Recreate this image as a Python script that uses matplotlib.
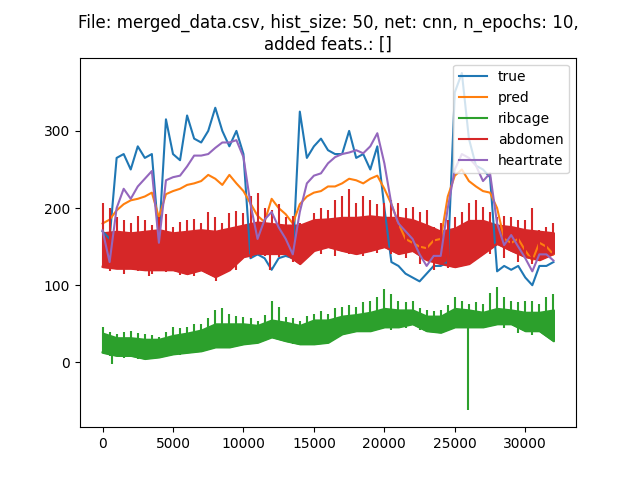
import numpy as np
import matplotlib
matplotlib.use("Agg")
import matplotlib.pyplot as plt

# values, one every 500 samples
step_fine = 500
true_vals = [170, 160, 265, 270, 250, 280, 265, 270, 160, 315, 270, 262, 320, 290, 285, 300,
             330, 300, 280, 300, 270, 135, 140, 135, 120, 135, 138, 135, 325, 265, 280, 290,
             275, 270, 270, 300, 265, 270, 250, 280, 200, 130, 125, 115, 110, 105, 115, 125,
             125, 130, 350, 375, 290, 255, 250, 240, 118, 125, 120, 125, 110, 100, 125, 125, 130]
pred_vals = [180, 185, 197, 205, 210, 212, 215, 220, 188, 218, 222, 225, 230, 232, 235, 243,
             238, 230, 243, 232, 222, 206, 190, 182, 212, 200, 192, 180, 205, 215, 220, 222,
             228, 228, 232, 238, 236, 232, 238, 242, 225, 205, 180, 160, 155, 150, 148, 158,
             160, 215, 242, 250, 235, 228, 222, 220, 200, 160, 155, 160, 145, 132, 155, 150, 140]
heartrate_vals = [171, 130, 200, 225, 212, 228, 238, 248, 155, 236, 240, 242, 254, 268, 268, 270,
                  278, 285, 285, 288, 266, 205, 160, 185, 195, 175, 160, 140, 195, 232, 242, 245,
                  258, 266, 270, 272, 275, 271, 280, 297, 258, 205, 180, 170, 160, 140, 125, 138,
                  138, 200, 250, 270, 265, 255, 235, 245, 180, 152, 165, 150, 135, 118, 140, 140, 132]

# noisy bands, one reading every 1000 samples: bottom edge, dense top, spike tops
step_coarse = 1000
abdomen_lo = [124, 122, 122, 120, 120, 120, 115, 120, 111, 120, 137, 141, 141, 141, 128, 145, 150,
              145, 141, 145, 150, 141, 145, 133, 128, 124, 128, 141, 154, 145, 137, 133, 141]
abdomen_top = [168, 170, 168, 170, 172, 168, 170, 172, 170, 174, 178, 182, 180, 178, 178, 185, 186,
               188, 188, 190, 188, 188, 185, 178, 170, 174, 184, 184, 178, 176, 172, 170, 168]
abdomen_peak = [206, 189, 180, 184, 189, 176, 184, 180, 189, 193, 193, 219, 197, 189, 180, 193, 197,
                215, 206, 210, 206, 206, 202, 197, 180, 189, 206, 202, 189, 189, 184, 171, 180]
ribcage_lo = [13, 9, 9, 5, 7, 11, 13, 15, 20, 20, 24, 26, 33, 28, 24, 24, 26,
              37, 41, 41, 46, 46, 50, 41, 39, 46, 46, 46, 50, 50, 41, 41, 28]
ribcage_top = [38, 32, 32, 30, 30, 35, 38, 42, 50, 50, 50, 48, 55, 52, 48, 55, 55,
               60, 62, 65, 70, 68, 68, 60, 60, 70, 68, 65, 70, 68, 65, 65, 68]
ribcage_peak = [46, 37, 41, 37, 33, 46, 46, 50, 68, 63, 59, 54, 80, 59, 54, 63, 63,
                72, 72, 80, 95, 80, 80, 68, 68, 85, 76, 76, 98, 80, 80, 76, 89]

# extra spikes between the coarse readings (at 500, 1500, ...)
abdomen_peak2 = [200, 185, 190, 178, 192, 182, 186, 195, 180, 196, 215, 200, 205, 190, 175, 200,
                 210, 225, 215, 205, 210, 200, 195, 175, 185, 195, 210, 195, 190, 185, 200, 175]
abdomen_lo2 = [118, 115, 118, 115, 117, 113, 112, 115, 116, 120, 135, 138, 136, 130, 135, 140,
               138, 140, 138, 142, 140, 135, 128, 120, 122, 125, 135, 140, 135, 130, 128, 135]
ribcage_peak2 = [40, 40, 38, 36, 40, 44, 50, 58, 70, 60, 58, 62, 72, 58, 60, 66,
                 70, 74, 78, 85, 88, 78, 70, 66, 74, 80, 78, 90, 85, 78, 80, 85]
ribcage_lo2 = [8, 6, 5, 4, 8, 10, 12, 16, 18, 22, 24, 28, 30, 24, 22, 25,
               32, 38, 40, 44, 42, 45, 42, 38, 42, 44, 45, 48, 45, 38, 36, 40]

# single outliers
ribcage_dip_x = [700, 25900]
ribcage_dip = [-2, -62]
abdomen_dip_x = [8070, 3300, 11900]
abdomen_dip = [105, 112, 120]

x_fine = np.arange(len(true_vals)) * step_fine
x_coarse = np.arange(len(abdomen_lo)) * step_coarse
x_half = x_coarse[:-1] + step_coarse / 2

fig, ax = plt.subplots(figsize=(6.4, 4.8), dpi=100)

ax.plot(x_fine, true_vals, color="C0", label="true")
ax.plot(x_fine, pred_vals, color="C1", label="pred")

ax.plot(x_coarse, ribcage_lo, color="C2", label="ribcage")
ax.fill_between(x_coarse, ribcage_lo, ribcage_top, color="C2", lw=1.5)
ax.vlines(x_coarse, ribcage_lo, ribcage_peak, color="C2", lw=1.5)
ax.vlines(x_half, ribcage_lo2, ribcage_peak2, color="C2", lw=1.5)
ax.vlines(ribcage_dip_x, np.interp(ribcage_dip_x, x_coarse, ribcage_top), ribcage_dip, color="C2", lw=1.5)

ax.plot(x_coarse, abdomen_lo, color="C3", label="abdomen")
ax.fill_between(x_coarse, abdomen_lo, abdomen_top, color="C3", lw=1.5)
ax.vlines(x_coarse, abdomen_lo, abdomen_peak, color="C3", lw=1.5)
ax.vlines(x_half, abdomen_lo2, abdomen_peak2, color="C3", lw=1.5)
ax.vlines(abdomen_dip_x, np.interp(abdomen_dip_x, x_coarse, abdomen_top), abdomen_dip, color="C3", lw=1.5)

ax.plot(x_fine, heartrate_vals, color="C4", label="heartrate")

ax.set_xlim(-1600, 33600)
ax.set_ylim(-84, 395)
ax.set_title("File: merged_data.csv, hist_size: 50, net: cnn, n_epochs: 10,\nadded feats.: []")
ax.legend(loc="upper right")

fig.savefig("out.png")
